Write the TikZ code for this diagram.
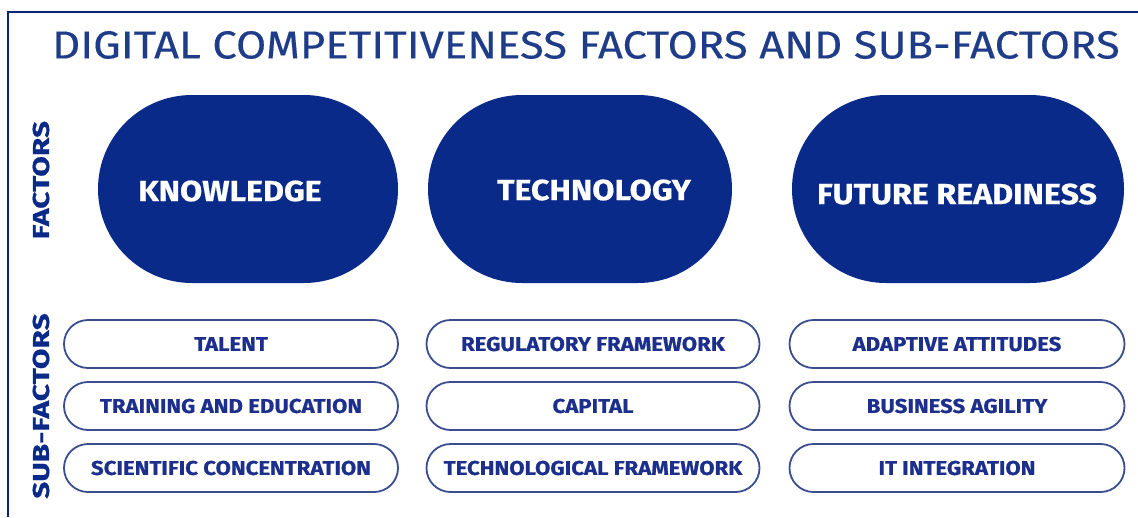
\documentclass[tikz,border=0pt]{standalone}
\usepackage{fontspec}
\setmainfont{Fira Sans}
\newfontfamily\titlefont[FakeStretch=1.12, FakeBold=0.3]{Fira Sans}
\newfontfamily\widefont[FakeStretch=1.11, BoldFeatures={FakeBold=0.6}]{Fira Sans}
\newfontfamily\sidefont[FakeStretch=1.3, BoldFeatures={FakeBold=0.6}]{Fira Sans}
\usetikzlibrary{positioning}
\definecolor{navy}{HTML}{0A2A8A}
\definecolor{titleblue}{HTML}{1F3C88}
\definecolor{pillline}{HTML}{3A4D8F}
\definecolor{pilltext}{HTML}{1C2F8C}

\begin{document}
\begin{tikzpicture}[
        x=1pt,
        y=-1pt,
        factor/.style={draw=none, fill=navy, rounded corners=94pt,
            minimum height=188pt, inner sep=0pt},
        factortext/.style={text=white, inner sep=0pt,
            font=\widefont\fontsize{29}{31}\selectfont\bfseries},
        subfactor/.style={draw=pillline, line width=1.8pt, fill=white, text=pilltext,
            rounded corners=24pt, minimum height=48pt, inner sep=0pt,
            font=\widefont\fontsize{20}{22}\selectfont\bfseries},
        sidelabel/.style={rotate=90, text=navy, inner sep=0pt,
            font=\sidefont\fontsize{23}{25}\selectfont\bfseries}
    ]
    \useasboundingbox (0,0) rectangle (1138,517);

    % frame and title
    \draw[navy!85!black, line width=2.2pt] (8,517) -- (8,12) -- (1138,12);
    \node[text=titleblue, inner sep=0pt, font=\titlefont\fontsize{39}{41}\selectfont]
        (title) at (586,45) {DIGITAL COMPETITIVENESS FACTORS AND SUB-FACTORS};

    % side labels
    \node[sidelabel] (lfac) at (41,180) {FACTORS};
    \node[sidelabel] (lsub) at (41,406) {SUB-FACTORS};

    % factors
    \node[factor, minimum width=300pt,
        label={[factortext, xshift=-18pt, yshift=-2pt]center:KNOWLEDGE}] (know) at (248,189) {};
    \node[factor, minimum width=304pt,
        label={[factortext, xshift=14pt, yshift=-1pt]center:TECHNOLOGY}] (tech) at (580,189) {};
    \node[factor, minimum width=332pt,
        label={[factortext, xshift=-1pt, yshift=-5pt]center:FUTURE READINESS}] (fut) at (958,189) {};

    % sub-factors
    \node[subfactor, minimum width=334pt] (talent) at (231,344) {TALENT};
    \node[subfactor, minimum width=334pt] (train) at (231,406) {TRAINING AND EDUCATION};
    \node[subfactor, minimum width=334pt] (sci) at (231,468) {SCIENTIFIC CONCENTRATION};

    \node[subfactor, minimum width=333pt] (regul) at (593,344) {REGULATORY FRAMEWORK};
    \node[subfactor, minimum width=333pt] (capital) at (593,406) {CAPITAL};
    \node[subfactor, minimum width=333pt] (techfw) at (593,468) {TECHNOLOGICAL FRAMEWORK};

    \node[subfactor, minimum width=335pt] (adapt) at (957,344) {ADAPTIVE ATTITUDES};
    \node[subfactor, minimum width=335pt] (agile) at (957,406) {BUSINESS AGILITY};
    \node[subfactor, minimum width=335pt] (itint) at (957,468) {IT INTEGRATION};
\end{tikzpicture}
\end{document}
